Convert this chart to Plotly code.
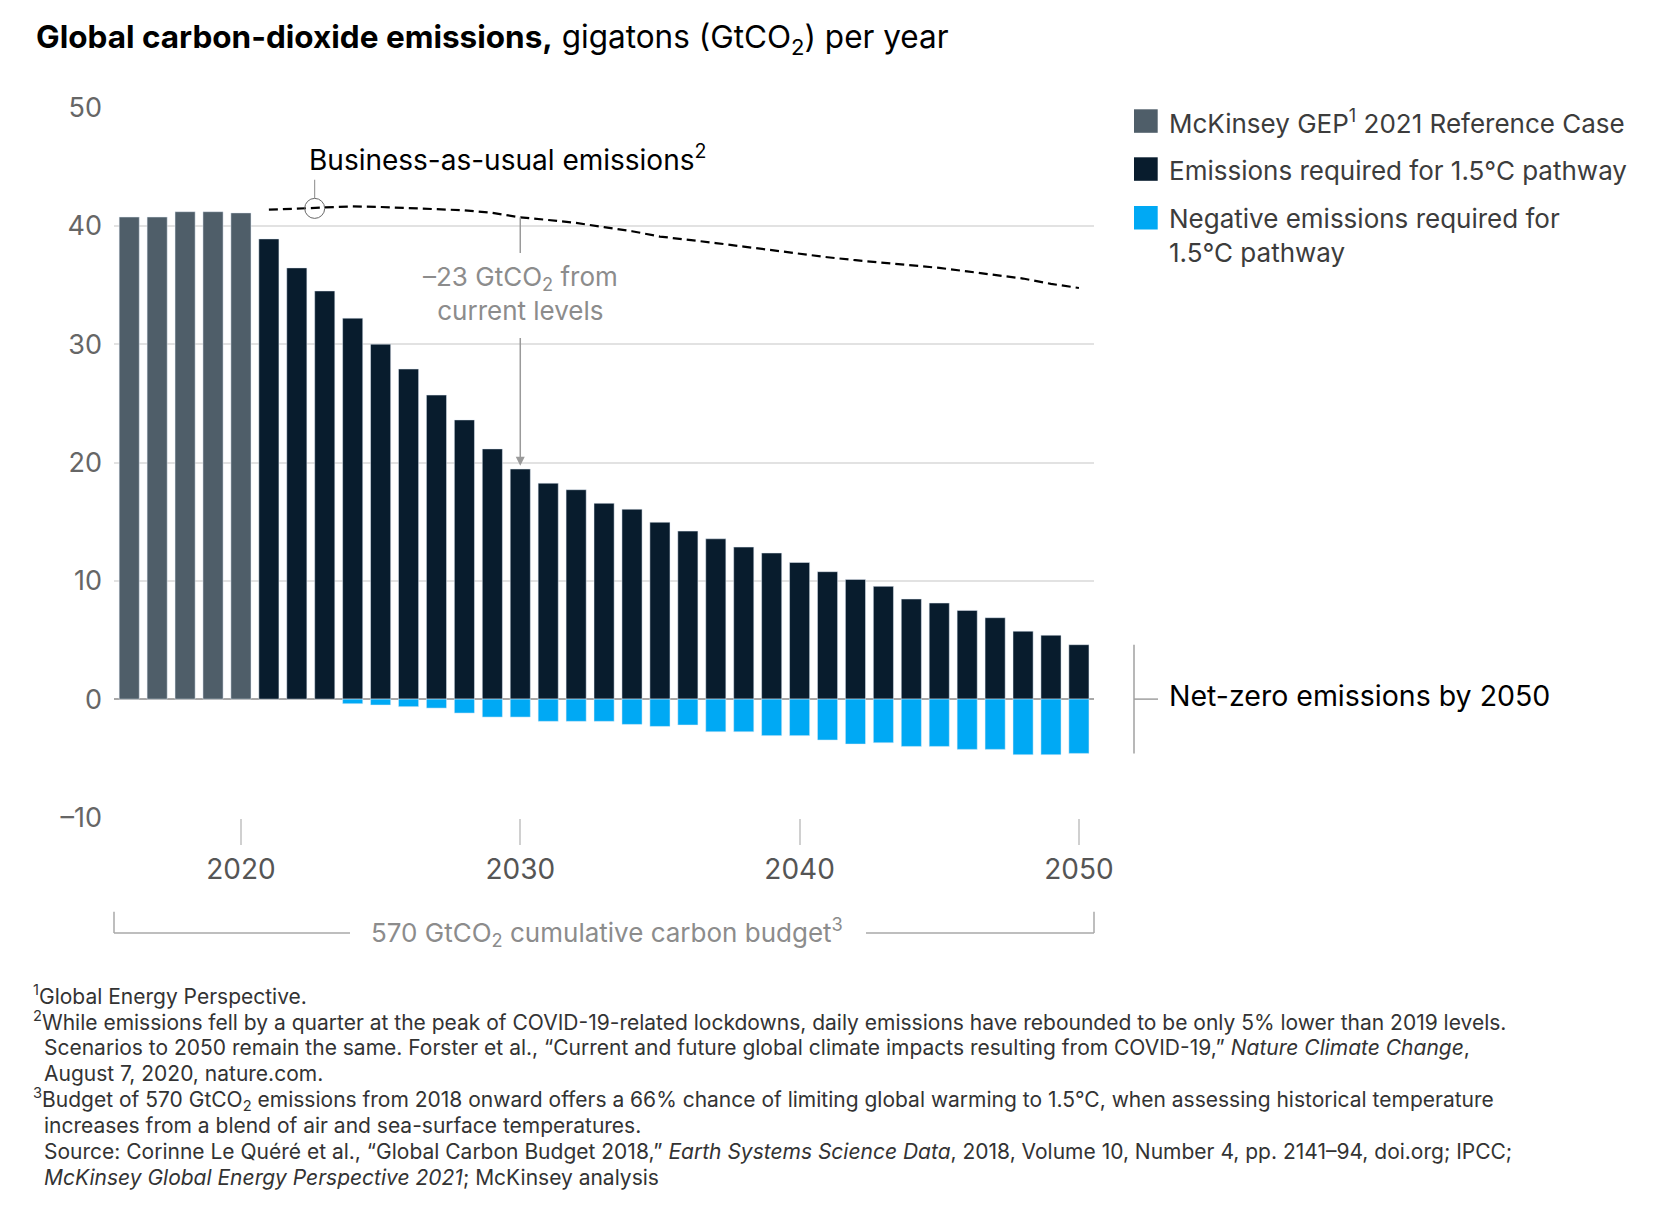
import plotly.graph_objects as go

# ---------------- data ----------------
ref_years = [2016, 2017, 2018, 2019, 2020]
ref_values = [40.75, 40.75, 41.2, 41.2, 41.1]

path_years = list(range(2021, 2051))
path_values = [38.9, 36.45, 34.5, 32.2, 30.0, 27.9, 25.7, 23.6, 21.15, 19.45,
               18.25, 17.7, 16.55, 16.05, 14.95, 14.2, 13.55, 12.85, 12.35, 11.55,
               10.77, 10.12, 9.53, 8.46, 8.12, 7.5, 6.88, 5.74, 5.4, 4.6]

neg_years = list(range(2024, 2051))
neg_values = [-0.39, -0.5, -0.64, -0.76, -1.18, -1.52, -1.52, -1.88, -1.88, -1.88,
              -2.14, -2.31, -2.19, -2.76, -2.76, -3.09, -3.09, -3.46, -3.8, -3.69,
              -4.0, -4.0, -4.25, -4.25, -4.7, -4.7, -4.59]

bau_years = list(range(2021, 2051))
bau_values = [41.37, 41.45, 41.55, 41.65, 41.6, 41.5, 41.42, 41.32, 41.1, 40.72,
              40.5, 40.25, 39.9, 39.55, 39.1, 38.85, 38.55, 38.25, 37.95, 37.6,
              37.35, 37.1, 36.9, 36.7, 36.45, 36.15, 35.85, 35.55, 35.1, 34.75]

y_ticks = [-10, 0, 10, 20, 30, 40, 50]
y_tick_labels = ["\u201310", "0", "10", "20", "30", "40", "50"]
x_ticks = [2020, 2030, 2040, 2050]
x_tick_labels = ["2020", "2030", "2040", "2050"]

legend_labels = ["McKinsey GEP<sup>1</sup> 2021 Reference Case",
                 "Emissions required for 1.5°C pathway",
                 "Negative emissions required for"]

# ---------------- style ----------------
W, H = 1662, 1218
ML, MR, MT, MB = 114, 568, 107, 400
FONT = "Inter"
C_REF = "#4f5e69"
C_PATH = "#081c2d"
C_NEG = "#00a9f4"
GRID = "#e2e2e2"


def px(xr):
    return (xr - ML) / (W - ML - MR)


def py(yr):
    return (H - MB - yr) / (H - MT - MB)


fig = go.Figure()
fig.add_trace(go.Bar(x=ref_years, y=ref_values, marker_color=C_REF, width=0.72,
                     name="ref", showlegend=False))
fig.add_trace(go.Bar(x=path_years, y=path_values, marker_color=C_PATH, width=0.72,
                     name="path", showlegend=False))
fig.add_trace(go.Bar(x=neg_years, y=neg_values, marker_color=C_NEG, width=0.72,
                     name="neg", showlegend=False))
fig.add_trace(go.Scatter(x=bau_years, y=bau_values, mode="lines",
                         line=dict(color="#000000", width=2.2, dash="9px,5px"),
                         showlegend=False, hoverinfo="skip"))

fig.update_layout(
    width=W, height=H, barmode="relative",
    margin=dict(l=ML, r=MR, t=MT, b=MB, pad=0),
    paper_bgcolor="white", plot_bgcolor="white",
    font=dict(family=FONT, color="#555555"),
    showlegend=False,
)
fig.update_yaxes(range=[-10.05, 50.05], tickvals=y_ticks, ticktext=y_tick_labels,
                 showgrid=True, gridcolor=GRID, gridwidth=1.5,
                 zeroline=True, zerolinecolor="#a8a8a8", zerolinewidth=1.5,
                 showline=False, ticks="", ticklabelstandoff=11,
                 tickfont=dict(size=27, color="#666666", family=FONT))
fig.update_xaxes(range=[2015.455, 2050.54], tickvals=x_ticks, ticktext=x_tick_labels,
                 showgrid=False, zeroline=False, showline=False,
                 ticks="outside", ticklen=26, tickcolor="#d0d0d0", tickwidth=1.5,
                 ticklabelstandoff=0,
                 tickfont=dict(size=28, color="#555555", family=FONT))

shapes = []
ann = []

# title
ann.append(dict(xref="paper", yref="paper", x=px(34), y=py(39), xanchor="left", yanchor="middle",
                text="<b>Global carbon-dioxide emissions,</b> gigatons (GtCO<sub>2</sub>) per year",
                showarrow=False, font=dict(size=31.5, color="#000000", family=FONT)))

# business as usual
circle_x, circle_y = 2022.64, 41.48
shapes.append(dict(type="circle", xref="x", yref="y", xsizemode="pixel", ysizemode="pixel",
                   xanchor=circle_x, yanchor=circle_y, x0=-10, x1=10, y0=-10, y1=10,
                   line=dict(color="#666666", width=1)))
shapes.append(dict(type="line", xref="x", yref="y", x0=circle_x, x1=circle_x,
                   y0=42.35, y1=43.9, line=dict(color="#888888", width=1)))
ann.append(dict(xref="x", yref="y", x=2022.38, y=45.75, xanchor="left", yanchor="middle",
                text="Business-as-usual emissions<sup>2</sup>", showarrow=False,
                font=dict(size=28, color="#000000", family=FONT)))

# -23 annotation
shapes.append(dict(type="line", xref="x", yref="y", x0=2030, x1=2030, y0=bau_values[9], y1=37.71,
                   line=dict(color="#9a9a9a", width=1.5)))
ann.append(dict(xref="x", yref="y", x=2030, y=19.73, ax=2030, ay=30.66, axref="x", ayref="y",
                text="", showarrow=True, arrowhead=2, arrowsize=1.2, arrowwidth=1.5,
                arrowcolor="#9a9a9a", standoff=0, startstandoff=0))
ann.append(dict(xref="x", yref="y", x=2030, y=34.3, xanchor="center", yanchor="middle",
                text="\u201323 GtCO<sub>2</sub> from<br>current levels", showarrow=False,
                font=dict(size=26, color="#8c8c8c", family=FONT)))

# legend (manual)
leg_colors = [C_REF, C_PATH, C_NEG]
leg_tops = [109.3, 157.3, 206]
leg_centers = [122, 170, 218.3]
for c, t, yc, lab in zip(leg_colors, leg_tops, leg_centers, legend_labels):
    shapes.append(dict(type="rect", xref="paper", yref="paper", x0=px(1134), x1=px(1157.7),
                       y0=py(t), y1=py(t + 23.5), fillcolor=c, line=dict(width=0)))
    ann.append(dict(xref="paper", yref="paper", x=px(1166.7), y=py(yc), xanchor="left",
                    yanchor="middle", text=lab, showarrow=False,
                    font=dict(size=26, color="#3c3c3c", family=FONT)))
ann.append(dict(xref="paper", yref="paper", x=px(1166.7), y=py(253), xanchor="left",
                yanchor="middle", text="1.5°C pathway", showarrow=False,
                font=dict(size=26, color="#3c3c3c", family=FONT)))

# net zero bracket
shapes.append(dict(type="line", xref="paper", yref="y", x0=px(1134), x1=px(1134),
                   y0=neg_values[-1], y1=path_values[-1], line=dict(color="#a0a0a0", width=1.5)))
shapes.append(dict(type="line", xref="paper", yref="y", x0=px(1134), x1=px(1158),
                   y0=0, y1=0, line=dict(color="#a0a0a0", width=1.5)))
ann.append(dict(xref="paper", yref="y", x=px(1166.7), y=0, xanchor="left", yanchor="middle",
                yshift=4, text="Net-zero emissions by 2050", showarrow=False,
                font=dict(size=28.5, color="#000000", family=FONT)))

# cumulative budget bracket
for xe in (0, 1):
    shapes.append(dict(type="line", xref="paper", yref="paper", x0=xe, x1=xe,
                       y0=py(911.7), y1=py(933), line=dict(color="#a8a8a8", width=1.5)))
shapes.append(dict(type="line", xref="paper", yref="paper", x0=0, x1=px(350),
                   y0=py(933), y1=py(933), line=dict(color="#a8a8a8", width=1.5)))
shapes.append(dict(type="line", xref="paper", yref="paper", x0=px(866), x1=1,
                   y0=py(933), y1=py(933), line=dict(color="#a8a8a8", width=1.5)))
ann.append(dict(xref="paper", yref="paper", x=px(607), y=py(932), xanchor="center",
                yanchor="middle",
                text="570 GtCO<sub>2</sub> cumulative carbon budget<sup>3</sup>", showarrow=False,
                font=dict(size=26, color="#8c8c8c", family=FONT)))

# footnotes
foot = [
    (31, "<sup>1</sup>Global Energy Perspective."),
    (31, "<sup>2</sup>While emissions fell by a quarter at the peak of COVID-19-related lockdowns, daily emissions have rebounded to be only 5% lower than 2019 levels."),
    (42, "Scenarios to 2050 remain the same. Forster et al., \u201cCurrent and future global climate impacts resulting from COVID-19,\u201d <i>Nature Climate Change</i>,"),
    (42, "August 7, 2020, nature.com."),
    (31, "<sup>3</sup>Budget of 570 GtCO<sub>2</sub> emissions from 2018 onward offers a 66% chance of limiting global warming to 1.5°C, when assessing historical temperature"),
    (42, "increases from a blend of air and sea-surface temperatures."),
    (42, "Source: Corinne Le Qu\u00e9r\u00e9 et al., \u201cGlobal Carbon Budget 2018,\u201d <i>Earth Systems Science Data</i>, 2018, Volume 10, Number 4, pp. 2141\u201394, doi.org; IPCC;"),
    (42, "<i>McKinsey Global Energy Perspective 2021</i>; McKinsey analysis"),
]
for i, (xr, t) in enumerate(foot):
    ann.append(dict(xref="paper", yref="paper", x=px(xr), y=py(995 + i * 26),
                    xanchor="left", yanchor="middle", text=t, showarrow=False,
                    font=dict(size=21, color="#333333", family=FONT)))

fig.update_layout(shapes=shapes, annotations=ann)

fig.write_html("out.html", config={"displayModeBar": False},
               post_script="document.body.style.margin='0';")
